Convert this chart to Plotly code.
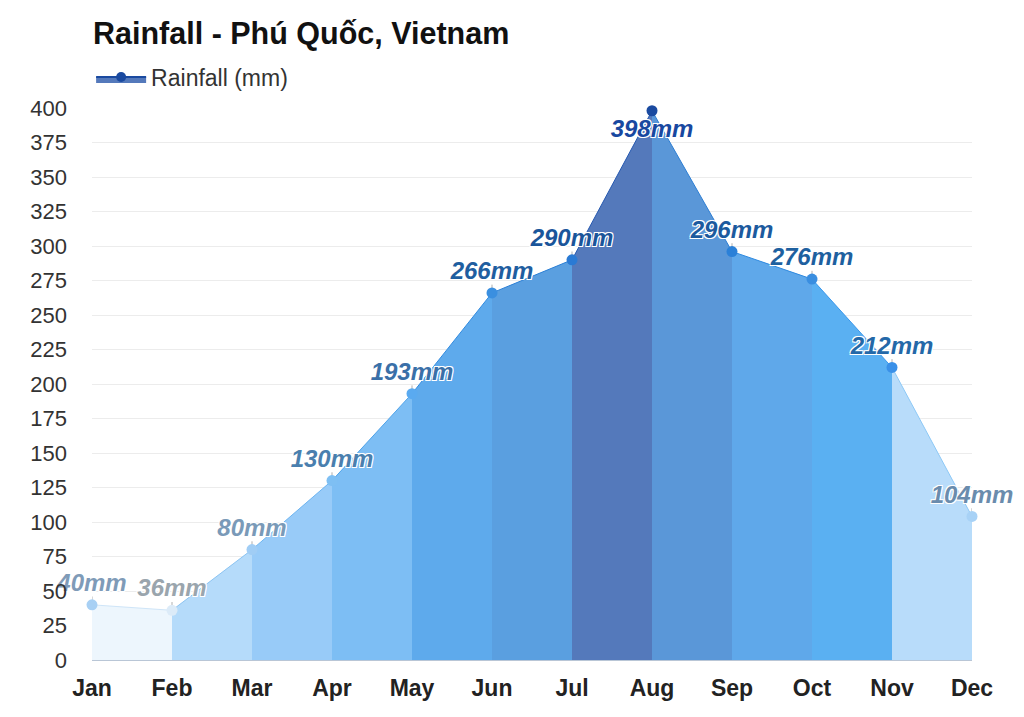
import plotly.graph_objects as go

# --- dữ liệu ---
months = ["Jan", "Feb", "Mar", "Apr", "May", "Jun", "Jul", "Aug", "Sep", "Oct", "Nov", "Dec"]
rainfall_mm = [40, 36, 80, 130, 193, 266, 290, 398, 296, 276, 212, 104]
y_ticks = list(range(0, 401, 25))

# --- màu sắc (theo từng tháng / từng đoạn) ---
seg_fill = ["#edf6fd", "#b5dbfa", "#98cbf8", "#7dbef4", "#5eaaec", "#5a9fe0",
            "#5479bb", "#5a97d8", "#5fa8ea", "#5ab0f2", "#b8dcfa"]
seg_line = ["#cfe5f8", "#8cc4f2", "#6db4f0", "#4ea3ea", "#2f8ae0", "#2a7fd6",
            "#2558b0", "#2c7ed4", "#2f8ae0", "#3a98ec", "#8cc8f6"]
marker_cols = ["#a8d0f4", "#dcebf8", "#a0cdf5", "#7ebff3", "#5aaaf0", "#3a8fe0",
               "#2a7ad4", "#1a4aa0", "#2a80d8", "#3a8ee0", "#3a90e8", "#a8d2f6"]
label_cols = ["#7f9bb8", "#9aa5ad", "#7a9ab8", "#4a7fae", "#3a70a8", "#1f5ea0",
              "#1a559a", "#1848a0", "#1c5a9e", "#1e609f", "#2468a8", "#6a8cad"]

fig = go.Figure()

x_idx = list(range(len(months)))

# các đoạn tô màu giữa hai tháng liên tiếp
for i in range(len(months) - 1):
    fig.add_trace(go.Scatter(
        x=x_idx[i:i + 2], y=rainfall_mm[i:i + 2],
        mode="lines", fill="tozeroy",
        fillcolor=seg_fill[i], line=dict(color=seg_line[i], width=1),
        showlegend=False, hoverinfo="skip"
    ))

# điểm + nhãn (nhãn của tháng cao nhất nằm dưới điểm)
peak = max(rainfall_mm)
fig.add_trace(go.Scatter(
    x=x_idx, y=rainfall_mm,
    mode="markers+text",
    marker=dict(size=11, color=marker_cols),
    error_y=dict(type="constant", value=6, symmetric=False, valueminus=0,
                 thickness=1, width=0, color="rgba(110,110,110,0.55)"),
    text=[f"{v}mm" for v in rainfall_mm],
    textposition=["bottom center" if v == peak else "top center" for v in rainfall_mm],
    textfont=dict(family="Liberation Sans, Arial", size=24, color=label_cols,
                  weight="bold", style="italic",
                  shadow="-1px -1px 0 #fff, 1px -1px 0 #fff, -1px 1px 0 #fff, 1px 1px 0 #fff"),
    showlegend=False, cliponaxis=False,
    hovertemplate="%{y}mm<extra></extra>"
))

# chú giải
fig.add_trace(go.Scatter(
    x=[None], y=[None], mode="lines+markers", fill="tozeroy",
    fillcolor="#5479bb", line=dict(color="#1a4aa0", width=2),
    marker=dict(size=10, color="#1a4aa0"),
    name="Rainfall (mm)"
))

fig.update_layout(
    width=1008, height=701,
    paper_bgcolor="white", plot_bgcolor="white",
    margin=dict(l=84, r=44, t=100, b=49),
    font=dict(family="Liberation Sans, Arial", color="#333"),
    title=dict(text="<b>Rainfall - Phú Quốc, Vietnam</b>", x=85 / 1008, xanchor="left",
               y=1 - 25 / 701, yanchor="middle",
               font=dict(size=30.5, color="#111")),
    legend=dict(orientation="h", x=-0.001, xanchor="left", y=1.056, yanchor="middle",
                font=dict(size=23, color="#333"), bgcolor="rgba(0,0,0,0)",
                itemwidth=50),
    xaxis=dict(range=[0, 11], tickmode="array", tickvals=x_idx, ticktext=months,
               showgrid=False, zeroline=False, showline=False, ticklabelstandoff=12,
               automargin=False,
               tickfont=dict(size=23, color="#222", weight="bold")),
    yaxis=dict(range=[0, 400], tickmode="array", tickvals=y_ticks,
               gridcolor="#ececec", zeroline=True, zerolinecolor="#b9c6d6", zerolinewidth=1.5,
               automargin=False,
               tickfont=dict(size=22, color="#333"), ticklabelstandoff=24),
    hovermode="closest"
)

fig.write_html("out.html")
